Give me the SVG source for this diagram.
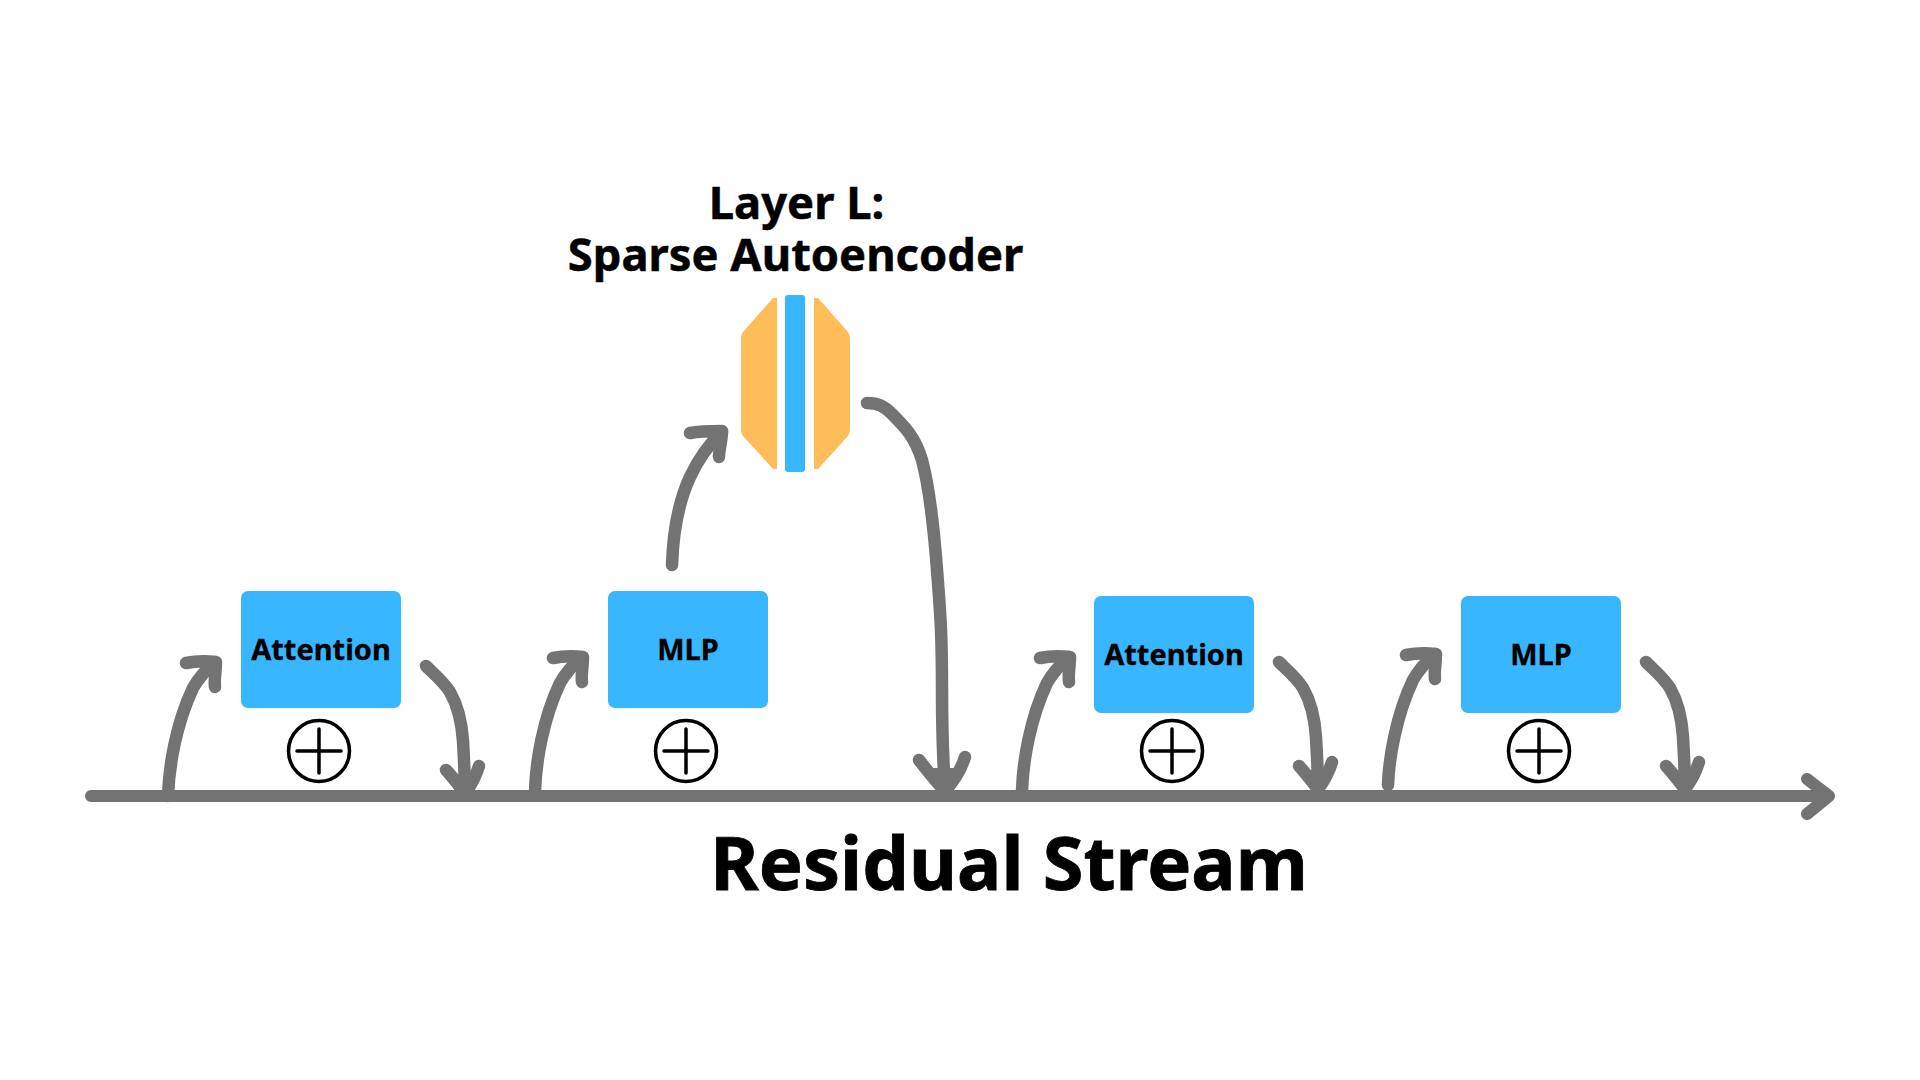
<svg xmlns="http://www.w3.org/2000/svg" width="1920" height="1080" viewBox="0 0 1920 1080">
<style>
.bg{fill:#fff}
.box{fill:#38b6ff}
.sae{fill:#ffbd59}
.conn{fill:none;stroke:#737373;stroke-width:12.5;stroke-linecap:round;stroke-linejoin:round}
.main{stroke-width:12}
.wedge{fill:#737373;stroke:none}
.plus{fill:none;stroke:#000;stroke-width:3.5;stroke-linecap:round}
text{font-family:"Noto Sans","Open Sans",sans-serif;font-weight:700;fill:#000;stroke:#000;text-anchor:middle}
.lbl{font-size:29px;stroke-width:.3px}
.title{font-size:45.3px;stroke-width:.5px}
.big{font-size:74px;stroke-width:.8px}
</style>
<defs>
<g id="oplus"><circle class="plus" r="30.5"/><path class="plus" d="M-22 0H22M0-22V22"/></g>
<g id="up"><path d="M0 0C1-30 8-72 25-108Q33-122 47-134"/><path d="M18-133C28-135 38-135 48-134C48-125 46-117 47-109"/><path class="wedge" d="M24-138L52-138L50-110Z"/></g>
<g id="down"><path d="M0 0C8 8 18 16 24 26C32 40 36 60 37 75C38 95 39 110 39 126"/><path d="M20 104C26 110 33 120 39 127C46 118 50 110 53 100"/><path class="wedge" d="M27 108L39 130L49 108Z"/></g>
</defs>
<rect class="bg" width="1920" height="1080"/>
<g id="connectors" class="conn">
<path class="main" d="M91 796H1829M1807 779L1829 796L1807 814"/>
<use href="#up" x="168" y="796"/>
<use href="#down" x="426" y="666"/>
<use href="#up" x="535" y="791"/>
<path d="M672 565C673 535 677 505 690 477C697 462 708 445 722 432"/>
<path d="M690 433C700 431 712 431 722 431C722 440 719 450 719 457"/>
<path class="wedge" d="M696 426L726 426L724 454Z"/>
<path d="M867 403C878 403 884 406 892 414C905 427 915 437 922 460C930 490 934 530 937 570C941 620 942 640 942 690C942 730 943 760 945 790"/>
<path d="M919 760C927 770 936 782 945 791C953 782 961 770 965 757"/>
<path class="wedge" d="M932 768L945 795L956 768Z"/>
<use href="#up" x="1022" y="791"/>
<use href="#down" x="1279" y="662"/>
<g transform="translate(1388 788)"><path d="M0-3C1-30 8-72 25-108Q33-122 47-134"/><path d="M18-133C28-135 38-135 48-134C48-125 46-117 47-109"/><path class="wedge" d="M24-138L52-138L50-110Z"/></g>
<use href="#down" x="1646" y="662"/>
</g>
<g id="attention-1"><rect class="box" x="241" y="591" width="160" height="117" rx="7"/><text class="lbl" x="321" y="660">Attention</text></g>
<g id="add-1"><use href="#oplus" x="319" y="751"/></g>
<g id="mlp-1"><rect class="box" x="608" y="591" width="160" height="117" rx="7"/><text class="lbl" x="688" y="660">MLP</text></g>
<g id="add-2"><use href="#oplus" x="686" y="751"/></g>
<g id="sae">
<path class="sae" d="M777 298V469H773L743 436Q741 433 741 430V338Q741 335 743 332L773 298Z"/>
<rect class="box" x="785" y="295" width="20" height="177" rx="3"/>
<path class="sae" d="M814 298V469H818L848 436Q850 433 850 430V338Q850 335 848 332L818 298Z"/>
<text class="title" x="796.5" y="219">Layer L:</text>
<text class="title" x="795.5" y="271">Sparse Autoencoder</text>
</g>
<g id="attention-2"><rect class="box" x="1094" y="596" width="160" height="117" rx="7"/><text class="lbl" x="1174" y="665">Attention</text></g>
<g id="add-3"><use href="#oplus" x="1172" y="751"/></g>
<g id="mlp-2"><rect class="box" x="1461" y="596" width="160" height="117" rx="7"/><text class="lbl" x="1541" y="665">MLP</text></g>
<g id="add-4"><use href="#oplus" x="1539" y="751"/></g>
<text class="big" x="1009" y="890">Residual Stream</text>
</svg>
